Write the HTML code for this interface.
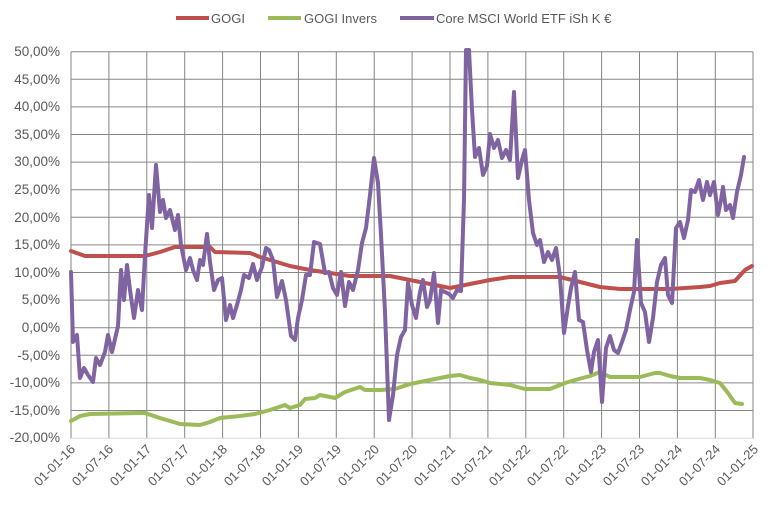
<!DOCTYPE html>
<html><head><meta charset="utf-8"><style>
html,body{margin:0;padding:0;background:#fff;}
svg{display:block;font-family:"Liberation Sans",sans-serif;}
</style></head><body>
<svg width="770" height="507" viewBox="0 0 770 507">
<g stroke="#868686" stroke-width="1">
<line x1="71" y1="51.7" x2="753" y2="51.7"/><line x1="71" y1="79.3" x2="753" y2="79.3"/><line x1="71" y1="106.9" x2="753" y2="106.9"/><line x1="71" y1="134.5" x2="753" y2="134.5"/><line x1="71" y1="162.1" x2="753" y2="162.1"/><line x1="71" y1="189.7" x2="753" y2="189.7"/><line x1="71" y1="217.3" x2="753" y2="217.3"/><line x1="71" y1="244.9" x2="753" y2="244.9"/><line x1="71" y1="272.5" x2="753" y2="272.5"/><line x1="71" y1="300.1" x2="753" y2="300.1"/><line x1="71" y1="327.7" x2="753" y2="327.7"/><line x1="71" y1="355.3" x2="753" y2="355.3"/><line x1="71" y1="382.9" x2="753" y2="382.9"/><line x1="71" y1="410.5" x2="753" y2="410.5"/>
<line x1="71" y1="51.7" x2="71" y2="438.3"/><line x1="108.9" y1="51.7" x2="108.9" y2="438.3"/><line x1="146.8" y1="51.7" x2="146.8" y2="438.3"/><line x1="184.7" y1="51.7" x2="184.7" y2="438.3"/><line x1="222.6" y1="51.7" x2="222.6" y2="438.3"/><line x1="260.5" y1="51.7" x2="260.5" y2="438.3"/><line x1="298.4" y1="51.7" x2="298.4" y2="438.3"/><line x1="336.3" y1="51.7" x2="336.3" y2="438.3"/><line x1="374.2" y1="51.7" x2="374.2" y2="438.3"/><line x1="412.1" y1="51.7" x2="412.1" y2="438.3"/><line x1="450" y1="51.7" x2="450" y2="438.3"/><line x1="487.9" y1="51.7" x2="487.9" y2="438.3"/><line x1="525.8" y1="51.7" x2="525.8" y2="438.3"/><line x1="563.7" y1="51.7" x2="563.7" y2="438.3"/><line x1="601.6" y1="51.7" x2="601.6" y2="438.3"/><line x1="639.5" y1="51.7" x2="639.5" y2="438.3"/><line x1="677.4" y1="51.7" x2="677.4" y2="438.3"/><line x1="715.3" y1="51.7" x2="715.3" y2="438.3"/><line x1="753" y1="51.7" x2="753" y2="438.3"/>
</g>
<line x1="71" y1="438.3" x2="753" y2="438.3" stroke="#d9d9d9" stroke-width="1"/>
<g font-size="13.5" fill="#595959" text-anchor="end">
<text x="60" y="56">50,00%</text><text x="60" y="84">45,00%</text><text x="60" y="111">40,00%</text><text x="60" y="139">35,00%</text><text x="60" y="166">30,00%</text><text x="60" y="194">25,00%</text><text x="60" y="222">20,00%</text><text x="60" y="249">15,00%</text><text x="60" y="277">10,00%</text><text x="60" y="304">5,00%</text><text x="60" y="332">0,00%</text><text x="60" y="360">-5,00%</text><text x="60" y="387">-10,00%</text><text x="60" y="415">-15,00%</text><text x="60" y="442">-20,00%</text>
</g>
<g font-size="13" fill="#595959" text-anchor="end">
<text transform="translate(76,450) rotate(-45)">01-01-16</text><text transform="translate(114,450) rotate(-45)">01-07-16</text><text transform="translate(152,450) rotate(-45)">01-01-17</text><text transform="translate(190,450) rotate(-45)">01-07-17</text><text transform="translate(228,450) rotate(-45)">01-01-18</text><text transform="translate(266,450) rotate(-45)">01-07-18</text><text transform="translate(304,450) rotate(-45)">01-01-19</text><text transform="translate(342,450) rotate(-45)">01-07-19</text><text transform="translate(380,450) rotate(-45)">01-01-20</text><text transform="translate(418,450) rotate(-45)">01-07-20</text><text transform="translate(456,450) rotate(-45)">01-01-21</text><text transform="translate(493,450) rotate(-45)">01-07-21</text><text transform="translate(531,450) rotate(-45)">01-01-22</text><text transform="translate(569,450) rotate(-45)">01-07-22</text><text transform="translate(607,450) rotate(-45)">01-01-23</text><text transform="translate(645,450) rotate(-45)">01-07-23</text><text transform="translate(683,450) rotate(-45)">01-01-24</text><text transform="translate(721,450) rotate(-45)">01-07-24</text><text transform="translate(759,450) rotate(-45)">01-01-25</text>
</g>
<g fill="none" stroke-width="4" stroke-linejoin="round" stroke-linecap="round">
<polyline stroke="#c0504d" points="71,251 85,256 145,256 160,252 175,247 210,247 215,252 250,253 260,257 290,266 310,270 330,273 350,276 390,276 410,280 450,288 470,284 490,280 510,277 560,277 580,282 600,287 620,289 670,289 700,287 710,286 720,283 735,281 745,270 752,266"/>
<polyline stroke="#9bbb59" points="71,421 80,416 90,414 140,413 145,413 160,418 180,424 200,425 210,422 220,418 240,416 255,414 270,410 285,405 290,408 300,405 305,399 315,398 320,395 330,397 335,398 345,392 360,387 365,390 380,390 395,389 410,384 430,380 450,376 460,375 470,378 480,380 490,383 510,385 525,389 550,389 565,383 575,380 590,376 600,372 610,377 640,377 655,373 660,373 670,376 680,378 700,378 710,380 720,383 728,393 735,403 742,404"/>
<polyline stroke="#8064a2" points="71,272 73,342 77,335 80,378 84,368 88,375 93,382 96,358 100,365 105,352 108,335 112,352 118,326 121,270 124,300 127,265 130,290 134,318 138,290 142,310 145,255 149,195 152,228 156,165 160,212 163,200 166,218 170,210 175,230 178,215 181,245 186,270 190,258 193,270 197,280 200,260 203,265 207,234 210,262 214,290 218,280 222,278 226,320 230,305 233,318 237,305 241,290 244,275 249,278 253,264 257,280 262,267 266,248 269,250 273,260 277,297 282,281 286,300 291,336 295,340 298,318 302,300 306,275 310,275 314,242 320,244 325,273 329,272 333,288 337,295 341,272 345,306 349,282 353,290 358,270 362,243 366,228 370,195 374,158 378,183 381,235 385,312 389,420 393,395 397,355 401,337 405,330 408,283 412,305 416,318 420,292 423,280 427,307 430,300 434,273 438,323 441,290 445,292 449,294 453,298 457,290 461,291 464,200 466,50 469,50 472,110 475,157 479,148 483,175 487,166 490,134 494,148 498,140 502,158 506,150 510,160 514,92 518,178 522,160 525,150 529,200 533,233 537,245 540,240 544,262 548,252 552,260 556,248 560,277 564,333 568,306 571,288 575,272 579,320 583,322 587,350 591,372 594,352 598,340 602,402 606,348 610,336 614,350 618,353 622,342 626,330 630,310 634,292 637,240 641,303 645,312 649,342 653,318 657,282 661,265 665,258 668,295 672,303 676,228 680,222 684,238 688,220 691,190 695,192 699,180 703,200 707,182 710,195 714,182 718,215 721,200 723,187 726,210 730,205 733,218 737,192 741,175 744,157"/>
</g>
<g stroke-width="4">
<line x1="176" y1="18" x2="209" y2="18" stroke="#c0504d"/>
<line x1="268" y1="18" x2="301" y2="18" stroke="#9bbb59"/>
<line x1="400" y1="18" x2="434" y2="18" stroke="#8064a2"/>
</g>
<g font-size="13" fill="#595959">
<text x="211" y="23">GOGI</text><text x="304" y="23">GOGI Invers</text><text x="436" y="23">Core MSCI World ETF iSh K €</text>
</g>
</svg>
</body></html>
